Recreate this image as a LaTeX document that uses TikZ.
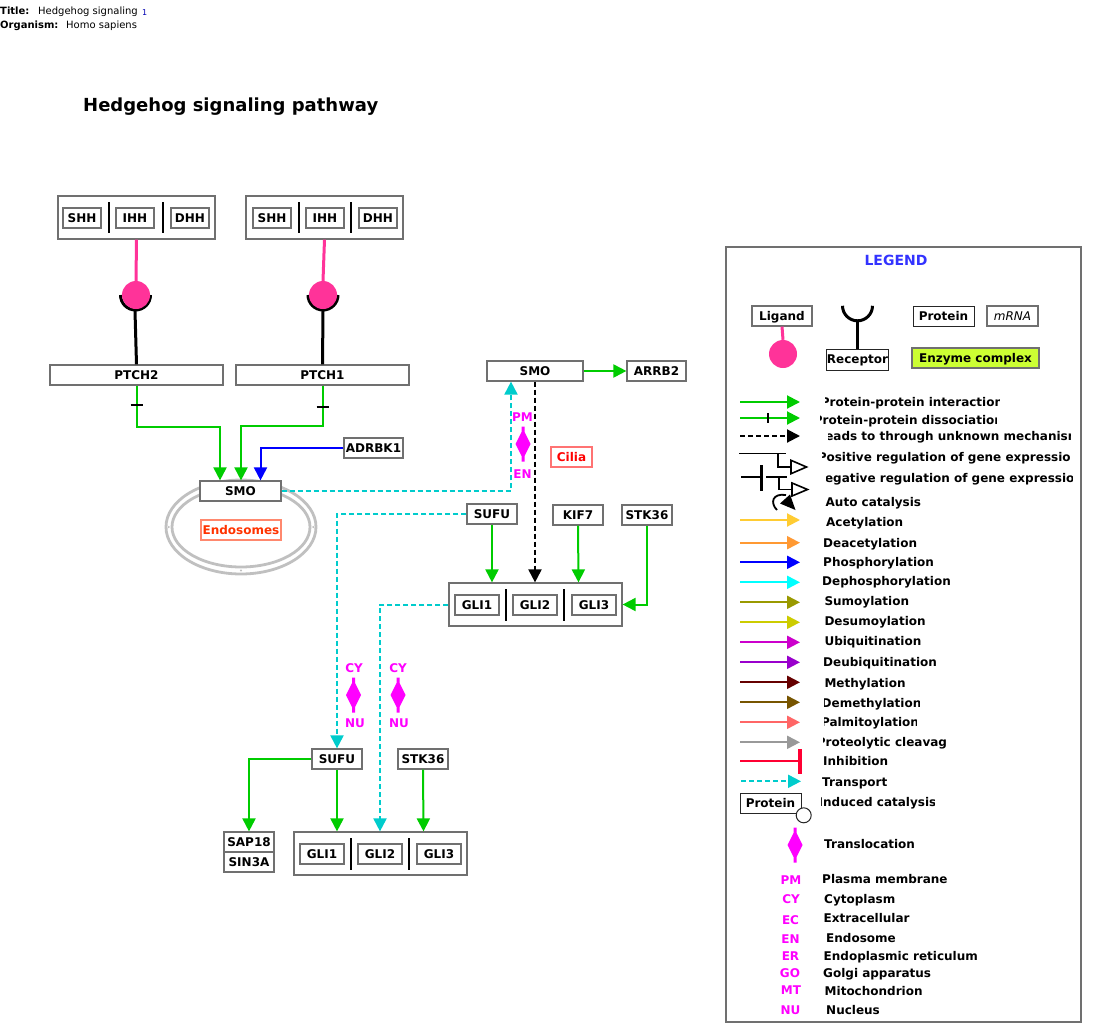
\documentclass[tikz,border=0pt]{standalone}
\usepackage{fontspec}
\setmainfont{DejaVu Sans}
\usetikzlibrary{arrows.meta,calc}
\definecolor{gr}{HTML}{00CC00}
\definecolor{teal}{HTML}{00CCCC}
\definecolor{pnk}{HTML}{FF3399}
\definecolor{mag}{HTML}{FF00FF}
\definecolor{bd}{HTML}{707070}
\definecolor{eg}{HTML}{C0C0C0}
\tikzset{
  x=1pt,y=-1pt,
  lbl/.style={font=\bfseries\fontsize{12}{12}\selectfont,text height=8.75pt,text depth=0pt,inner sep=0pt,text=black},
  pbox/.style={lbl,draw=bd,line width=1.2pt,fill=white},
  kbox/.style={lbl,draw=black!85,line width=1pt,fill=white},
  cplx/.style={draw=bd,line width=1.2pt,fill=white,inner sep=0pt},
  div/.style={line width=2pt,draw=black},
  tip/.style={-{Triangle[length=13pt,width=13pt]}},
  act/.style={tip,draw=gr,line width=2pt},
  trans/.style={tip,draw=teal,line width=2pt,dash pattern=on 5pt off 3pt},
  unk/.style={tip,draw=black,line width=2pt,dash pattern=on 5pt off 3pt},
  phos/.style={tip,draw=blue,line width=2pt},
  tick/.style={draw=black,line width=1.8pt},
  ligline/.style={draw=pnk,line width=3pt},
  recline/.style={draw=black,line width=3pt},
  lig/.style={circle,fill=pnk,draw=none,minimum size=28pt,inner sep=0pt},
  loc/.style={lbl,text=mag},
  trl/.style={fill=mag,draw=none},
  reg/.style={draw=black,line width=1.6pt},
  hollow/.style={draw=black,fill=white,line width=1.6pt},
  hdr/.style={font=\fontsize{10}{10}\selectfont,inner sep=0pt,anchor=base west,text=black},
}
\newcommand{\bx}[7]{\node[#1,minimum width={(#5-#3)*1pt},minimum height={(#6-#4)*1pt}] (#2) at ({(#3+#5)/2},{(#4+#6)/2}) {#7};}
\newcommand{\dv}[4]{\coordinate (#1a) at (#2,#3); \coordinate (#1b) at (#2,#4); \draw[div] (#1a) -- (#1b);}
\newcommand{\trans}[2]{\path[trl] ({#1-1.5},{#2-17.5}) -- ({#1+1.5},{#2-17.5}) -- ({#1+1.5},{#2-12}) -- ({#1+7.5},#2) -- ({#1+1.5},{#2+12}) -- ({#1+1.5},{#2+17.5}) -- ({#1-1.5},{#2+17.5}) -- ({#1-1.5},{#2+12}) -- ({#1-7.5},#2) -- ({#1-1.5},{#2-12}) -- cycle;}
\newcommand{\recarc}[2]{\draw[recline] ({#1-15},#2) arc[start angle=180,end angle=360,radius=15pt];}
\newcommand{\legarrow}[2]{\coordinate (ls) at (740,#2); \coordinate (le) at (800,#2); \draw[tip,draw=#1,line width=2pt] (ls) -- (le);}
\newcommand{\cliplab}[6][0]{\begin{scope}\clip (#3,{#5-10}) rectangle (#4,{#5+10}); \node[lbl] (#2) at ({(#3+#4)/2+#1},#5) {#6}; \end{scope}}
\newcommand{\lft}[4]{\node[lbl,anchor=west] (#1) at (#2,#3) {#4};}
\begin{document}
\begin{tikzpicture}
\useasboundingbox (0,0) rectangle (1095,1036);
% header
\node[hdr] (h1) at (0,14) {\bfseries Title:};
\node[hdr] (h2) at (38,14) {Hedgehog signaling};
\node[hdr,font=\fontsize{8}{8}\selectfont,text=blue!70!black] (h3) at (142,16) {1};
\node[hdr] (h4) at (0,28) {\bfseries Organism:};
\node[hdr] (h5) at (66,28) {Homo sapiens};
\node[hdr,font=\bfseries\fontsize{18}{18}\selectfont] (title) at (83,111) {Hedgehog signaling pathway};
% endosome
\draw[eg,line width=2.8pt] (241,527) ellipse [x radius=75pt,y radius=47pt];
\draw[eg,line width=2.8pt] (241,527) ellipse [x radius=69pt,y radius=40pt];
\fill[eg] (168.7,527) circle[radius=1.2pt] (313.3,527) circle[radius=1.2pt] (241,570.5) circle[radius=1.2pt];
% ligand complexes
\bx{cplx}{cA}{58}{196}{215}{239}{}
\bx{pbox}{shhA}{63}{208}{101}{228}{SHH}
\bx{pbox}{ihhA}{116}{208}{154}{228}{IHH}
\bx{pbox}{dhhA}{171}{208}{209}{228}{DHH}
\dv{dA1}{109}{202}{233}\dv{dA2}{163}{202}{233}
\bx{cplx}{cB}{246}{196}{403}{239}{}
\bx{pbox}{shhB}{253}{208}{291}{228}{SHH}
\bx{pbox}{ihhB}{306}{208}{344}{228}{IHH}
\bx{pbox}{dhhB}{359}{208}{397}{228}{DHH}
\dv{dB1}{299}{202}{233}\dv{dB2}{351}{202}{233}
% receptors
\bx{pbox}{ptch2}{50}{365}{223}{385}{PTCH2}
\bx{pbox}{ptch1}{236}{365}{409}{385}{PTCH1}
\recarc{135.5}{295}\recarc{323}{295}
\node[lig] (ligA) at (136,295) {};
\node[lig] (ligB) at (323,295) {};
\draw[ligline] (cA.south) -- (ligA.north);
\draw[ligline] (cB.south) -- (ligB.north);
\coordinate (rA) at (135,311);\coordinate (rB) at (323,311);
\draw[recline] (rA) -- (ptch2.north);
\draw[recline] (rB) -- (ptch1.north);
% nodes
\bx{pbox}{smoA}{200}{481}{281}{501}{SMO}
\bx{pbox}{adrbk}{344}{438}{403}{458}{ADRBK1}
\node[lbl,draw={rgb,255:red,255;green,136;blue,110},line width=1.2pt,text={rgb,255:red,255;green,51;blue,0},minimum width=80pt,minimum height=20pt,fill=white] (endo) at (241,530) {Endosomes};
\bx{pbox}{smoB}{487}{361}{583}{381}{SMO}
\bx{pbox}{arrb}{627}{361}{686}{381}{ARRB2}
\node[lbl,draw=red!55,line width=1.2pt,text=red,minimum width=41pt,minimum height=20pt] (cilia) at (571.5,457) {Cilia};
\bx{pbox}{sufuA}{467}{504}{517}{524}{SUFU}
\bx{pbox}{kif}{553}{505}{603}{525}{KIF7}
\bx{pbox}{stkA}{622}{505}{672}{525}{STK36}
\bx{cplx}{gliA}{449}{583}{622}{626}{}
\bx{pbox}{gA1}{455}{595}{499}{615}{GLI1}
\bx{pbox}{gA2}{513}{595}{557}{615}{GLI2}
\bx{pbox}{gA3}{572}{595}{616}{615}{GLI3}
\dv{dG1}{506}{589}{621}\dv{dG2}{564}{589}{621}
\bx{pbox}{sufuB}{312}{749}{362}{769}{SUFU}
\bx{pbox}{stkB}{398}{749}{448}{769}{STK36}
\bx{pbox}{sap}{224}{832}{274}{852}{SAP18}
\bx{pbox}{sin}{224}{852}{274}{872}{SIN3A}
\bx{cplx}{gliB}{294}{832}{467}{875}{}
\bx{pbox}{gB1}{300}{844}{344}{864}{GLI1}
\bx{pbox}{gB2}{358}{844}{402}{864}{GLI2}
\bx{pbox}{gB3}{417}{844}{461}{864}{GLI3}
\dv{dH1}{351}{838}{870}\dv{dH2}{409}{838}{870}
% connectors
\draw[act] (ptch2.south) -- ++(0,41) -| ($(smoA.north)+(-20.5,0)$);
\draw[act] (ptch1.south) -- ++(0,40) -| ($(smoA.north)+(0.5,0)$);
\draw[tick] ($(ptch2.south)+(-6,19)$) -- ++(12,0);
\draw[tick] ($(ptch1.south)+(-6,21)$) -- ++(12,0);
\draw[phos] (adrbk.west) -| ($(smoA.north)+(20,0)$);
\draw[trans] (smoA.east) -| ($(smoB.south)+(-24,0)$);
\draw[trans] (sufuA.west) -| (sufuB.north);
\draw[trans] (gliA.west) -| ($(gliB.north)+(-0.5,0)$);
\draw[act] (smoB.east) -- (arrb.west);
\draw[unk] (smoB.south) -- (smoB.south |- gliA.north);
\draw[act] ($(sufuA.south)$) -- ($(gliA.north)+(-43.5,0)$);
\draw[act] (kif.south) -- ($(gliA.north)+(43,0)$);
\draw[act] (stkA.south) |- (gliA.east);
\draw[act] (sufuB.west) -| (sap.north);
\draw[act] (sufuB.south) -- ($(gliB.north)+(-43.5,0)$);
\draw[act] (stkB.south) -- ($(gliB.north)+(43,0)$);
% translocation marks
\node[loc] (pm) at (522.5,417) {PM}; \trans{523}{444} \node[loc] (en) at (522.5,474) {EN};
\node[loc] (cy1) at (354,668) {CY}; \trans{353.5}{695} \node[loc] (nu1) at (355,723) {NU};
\node[loc] (cy2) at (398,668) {CY}; \trans{398}{695} \node[loc] (nu2) at (399,723) {NU};
% legend
\bx{cplx}{leg}{726}{247}{1081}{1022}{}
\node[lbl,text={rgb,255:red,51;green,51;blue,255},font=\bfseries\fontsize{14}{14}\selectfont,text height=10pt] (legt) at (896,260) {LEGEND};
\bx{pbox}{lLig}{752}{306}{812}{326}{Ligand}
\node[lig] (lLc) at (783,354) {};
\draw[ligline] (lLig.south) -- (lLc.north);
\bx{kbox}{lRec}{827}{349}{888}{370}{Receptor}
\recarc{857.5}{305.8}
\coordinate (lRa) at (857.5,321);
\draw[recline] (lRa) -- (lRec.north);
\bx{kbox}{lPro}{913}{306}{974}{326}{Protein}
\node[lbl,font=\itshape\fontsize{12}{12}\selectfont,draw=bd,line width=1.2pt,minimum width=51pt,minimum height=20pt] (lMr) at (1012.5,316) {mRNA};
\node[lbl,draw=bd,line width=1.2pt,fill={rgb,255:red,204;green,255;blue,51},minimum width=127pt,minimum height=20pt] (lEn) at (975.5,358) {Enzyme complex};
\legarrow{gr}{402}
\legarrow{gr}{418}
\coordinate (lt1) at (768,413);\coordinate (lt2) at (768,423);
\draw[draw=black,line width=1.2pt] (lt1) -- (lt2);
\coordinate (u1) at (740,436);\coordinate (u2) at (800,436);
\draw[unk] (u1) -- (u2);
% regulation glyphs
\coordinate (p1) at (739,453.5);\coordinate (p2) at (786,453.5);\coordinate (p3) at (778,453.5);\coordinate (p4) at (778,467);\coordinate (p5) at (791,467);
\draw[reg] (p1) -- (p2); \draw[reg] (p3) -- (p4) -- (p5);
\draw[hollow] (791,460.3) -- (806.5,467) -- (791,473.7) -- cycle;
\coordinate (n1) at (741,477);\coordinate (n2) at (761,477);\coordinate (n3) at (766,477);\coordinate (n4) at (787,477);\coordinate (n5) at (779,477);\coordinate (n6) at (779,489.5);\coordinate (n7) at (792,489.5);
\draw[reg] (n1) -- (n2); \draw[reg] (n3) -- (n4); \draw[reg] (n5) -- (n6) -- (n7);
\draw[draw=black,line width=3pt] (761,465) -- (761,491);
\draw[hollow] (792,483) -- (807.5,489.5) -- (792,496) -- cycle;
% auto catalysis
\draw[black,line width=1.8pt] (777,510) .. controls (770,503) and (772,493) .. (786,495);
\fill[black] (780,503.5) -- (790,494.5) -- (795.5,510) -- cycle;
\legarrow{{rgb,255:red,255;green,204;blue,51}}{520}
\legarrow{{rgb,255:red,255;green,153;blue,51}}{542.7}
\legarrow{blue}{562.3}
\legarrow{{rgb,255:red,0;green,255;blue,255}}{582.3}
\legarrow{{rgb,255:red,153;green,153;blue,0}}{602.3}
\legarrow{{rgb,255:red,204;green,204;blue,0}}{622.3}
\legarrow{{rgb,255:red,204;green,0;blue,204}}{642.3}
\legarrow{{rgb,255:red,153;green,0;blue,204}}{662.3}
\legarrow{{rgb,255:red,102;green,0;blue,0}}{682.3}
\legarrow{{rgb,255:red,119;green,85;blue,0}}{702.3}
\legarrow{{rgb,255:red,255;green,102;blue,102}}{722.3}
\legarrow{{rgb,255:red,153;green,153;blue,153}}{742.3}
\coordinate (i1) at (740,760.7);\coordinate (i2) at (800,760.7);
\draw[draw={rgb,255:red,255;green,0;blue,51},line width=2pt] (i1) -- (i2);
\draw[draw={rgb,255:red,255;green,0;blue,51},line width=3.5pt] (800,749) -- (800,774.3);
\coordinate (t1) at (741,781.3);\coordinate (t2) at (801,781.3);
\draw[trans] (t1) -- (t2);
\bx{kbox}{lIc}{740}{793}{801}{813}{Protein}
\node[circle,draw=black!85,fill=white,line width=1pt,minimum size=15pt,inner sep=0pt] (lIo) at (803.7,815.3) {};
\trans{795}{845}
% legend labels
\cliplab{t1l}{825}{999}{402}{Protein-protein interaction}
\cliplab{t2l}{820.7}{996}{420}{Protein-protein dissociation}
\cliplab{t3l}{828}{1070}{436}{Leads to through unknown mechanism}
\cliplab[3]{t4l}{822}{1069}{457}{Positive regulation of gene expression}
\cliplab{t5l}{826}{1072}{478}{Negative regulation of gene expression}
\lft{t6l}{825.5}{502}{Auto catalysis}
\lft{t7l}{826}{522}{Acetylation}
\lft{t8l}{823}{542.7}{Deacetylation}
\lft{t9l}{823}{562}{Phosphorylation}
\lft{t10l}{822}{581}{Dephosphorylation}
\lft{t11l}{824.3}{601}{Sumoylation}
\lft{t12l}{824.3}{621}{Desumoylation}
\lft{t13l}{824.3}{641}{Ubiquitination}
\lft{t14l}{823}{662}{Deubiquitination}
\lft{t15l}{824.3}{683}{Methylation}
\cliplab{t16l}{824}{919}{703}{Demethylation}
\cliplab{t17l}{824}{916}{722}{Palmitoylation}
\cliplab[1.5]{t18l}{823}{946}{742}{Proteolytic cleavage}
\lft{t19l}{823}{761}{Inhibition}
\lft{t20l}{822}{782}{Transport}
\cliplab{t21l}{821}{934}{802}{Induced catalysis}
\lft{t22l}{824}{844}{Translocation}
\lft{t23l}{822}{879}{Plasma membrane}
\lft{t24l}{824}{899}{Cytoplasm}
\lft{t25l}{823.5}{918}{Extracellular}
\lft{t26l}{826}{938}{Endosome}
\lft{t27l}{823.5}{956}{Endoplasmic reticulum}
\lft{t28l}{823}{973}{Golgi apparatus}
\lft{t29l}{824.5}{991}{Mitochondrion}
\lft{t30l}{826}{1010}{Nucleus}
\node[loc] (a1) at (791,880) {PM};
\node[loc] (a2) at (791,899) {CY};
\node[loc] (a3) at (790.5,920) {EC};
\node[loc] (a4) at (790.5,939) {EN};
\node[loc] (a5) at (790.5,956) {ER};
\node[loc] (a6) at (790,973) {GO};
\node[loc] (a7) at (791,990) {MT};
\node[loc] (a8) at (790.5,1010) {NU};
\end{tikzpicture}
\end{document}
